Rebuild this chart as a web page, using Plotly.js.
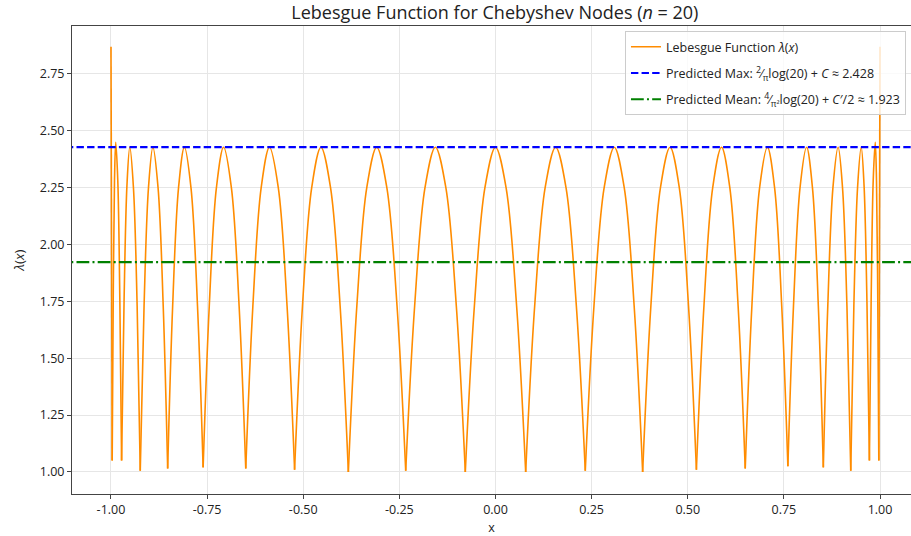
<!DOCTYPE html>
<html>
<head>
<meta charset="utf-8">
<script src="https://cdn.plot.ly/plotly-3.0.1.min.js"></script>
<style>html,body{margin:0;padding:0;background:#fff;}#chart{width:911px;height:536px;}</style>
</head>
<body>
<div id="chart"></div>
<script>
// Lebesgue function samples (x, lambda(x))
const lamX = [
  -1.0000, -0.9969, -0.9942, -0.9909, -0.9877, -0.9823, -0.9770, -0.9724,
  -0.9660, -0.9585, -0.9511, -0.9416, -0.9320, -0.9239,
  -0.9140, -0.9025, -0.8910, -0.8776, -0.8642, -0.8526,
  -0.8396, -0.8243, -0.8090, -0.7920, -0.7750, -0.7604,
  -0.7444, -0.7258, -0.7071, -0.6869, -0.6668, -0.6495,
  -0.6310, -0.6094, -0.5878, -0.5649, -0.5421, -0.5225,
  -0.5020, -0.4780, -0.4540, -0.4290, -0.4041, -0.3827,
  -0.3606, -0.3348, -0.3090, -0.2826, -0.2561, -0.2335,
  -0.2103, -0.1834, -0.1564, -0.1291, -0.1019, -0.0785,
  -0.0549, -0.0275, 0.0000, 0.0275, 0.0549, 0.0785,
  0.1019, 0.1291, 0.1564, 0.1834, 0.2103, 0.2335,
  0.2561, 0.2826, 0.3090, 0.3348, 0.3606, 0.3827,
  0.4041, 0.4290, 0.4540, 0.4780, 0.5020, 0.5225,
  0.5421, 0.5649, 0.5878, 0.6094, 0.6310, 0.6495,
  0.6668, 0.6869, 0.7071, 0.7258, 0.7444, 0.7604,
  0.7750, 0.7920, 0.8090, 0.8243, 0.8396, 0.8526,
  0.8642, 0.8776, 0.8910, 0.9025, 0.9140, 0.9239,
  0.9320, 0.9416, 0.9511, 0.9585, 0.9660, 0.9724,
  0.9770, 0.9823, 0.9877, 0.9909, 0.9942, 0.9969, 1.0000
];
const lamY = [
  2.870, 1.050, 1.760, 2.280, 2.450, 2.280, 1.760, 1.050,
  1.750, 2.260, 2.428, 2.250, 1.730, 1.005,
  1.730, 2.250, 2.428, 2.250, 1.730, 1.015,
  1.730, 2.250, 2.428, 2.250, 1.730, 1.020,
  1.730, 2.250, 2.428, 2.250, 1.730, 1.015,
  1.730, 2.250, 2.428, 2.250, 1.730, 1.010,
  1.730, 2.250, 2.428, 2.250, 1.730, 1.000,
  1.730, 2.250, 2.428, 2.250, 1.730, 1.005,
  1.730, 2.250, 2.428, 2.250, 1.730, 1.000,
  1.730, 2.250, 2.428, 2.250, 1.730, 1.000,
  1.730, 2.250, 2.428, 2.250, 1.730, 1.005,
  1.730, 2.250, 2.428, 2.250, 1.730, 1.000,
  1.730, 2.250, 2.428, 2.250, 1.730, 1.010,
  1.730, 2.250, 2.428, 2.250, 1.730, 1.015,
  1.730, 2.250, 2.428, 2.250, 1.730, 1.025,
  1.730, 2.250, 2.428, 2.250, 1.730, 1.020,
  1.730, 2.250, 2.428, 2.250, 1.730, 1.005,
  1.730, 2.250, 2.428, 2.260, 1.750, 1.050,
  1.760, 2.280, 2.450, 2.280, 1.760, 1.050, 2.870
];
const predictedMax = 2.428;
const predictedMean = 1.923;
const hlineX = [-1.2, 1.2];
const xTicks = [-1.00, -0.75, -0.50, -0.25, 0.00, 0.25, 0.50, 0.75, 1.00];
const yTicks = [1.00, 1.25, 1.50, 1.75, 2.00, 2.25, 2.50, 2.75];

const ORANGE = '#FF8C00';
const FONT = 'Open Sans, sans-serif';

// split the curve into arches at the node dips so each cusp stays sharp
const traces = [];
let segX = [lamX[0]], segY = [lamY[0]];
for (let i = 1; i < lamX.length; i++) {
  segX.push(lamX[i]); segY.push(lamY[i]);
  if (lamY[i] < 1.2 || i === lamX.length - 1) {
    traces.push({
      x: segX, y: segY, type: 'scatter', mode: 'lines',
      line: {color: ORANGE, width: 1.6, shape: 'spline', smoothing: 1},
      name: 'Lebesgue Function <i>λ</i>(<i>x</i>)', legendgroup: 'a',
      showlegend: traces.length === 0, hoverinfo: 'skip'
    });
    segX = [lamX[i]]; segY = [lamY[i]];
  }
}
traces.push({
  x: hlineX, y: hlineX.map(() => predictedMax), type: 'scatter', mode: 'lines',
  line: {color: '#0000FF', width: 2.2, dash: '7.4px,3.2px'}, legendgroup: 'b',
  name: 'Predicted Max: <sup>2</sup>⁄<sub>π</sub>log(20) + <i>C</i> ≈ 2.428'
});
traces.push({
  x: hlineX, y: hlineX.map(() => predictedMean), type: 'scatter', mode: 'lines',
  line: {color: '#008000', width: 2.2, dash: '12.8px,3.2px,2px,3.2px'}, legendgroup: 'c',
  name: 'Predicted Mean: <sup>4</sup>⁄<sub>π²</sub>log(20) + <i>C</i>′/2 ≈ 1.923'
});

const layout = {
  width: 911, height: 536,
  margin: {l: 72, r: 0, t: 26, b: 42},
  paper_bgcolor: '#fff', plot_bgcolor: '#fff',
  font: {family: FONT, color: '#222', size: 12},
  title: {text: 'Lebesgue Function for Chebyshev Nodes (<i>n</i> = 20)',
          font: {size: 18, color: '#222'}, x: 0.504, xref: 'paper', y: 0.977, yref: 'container', yanchor: 'middle'},
  xaxis: {
    range: [-1.1014, 1.0806], tickvals: xTicks, ticktext: xTicks.map(v => v.toFixed(2)),
    showgrid: true, gridcolor: '#e6e6e6', gridwidth: 1, zeroline: false,
    showline: true, linecolor: '#444', linewidth: 1, mirror: true,
    ticks: 'outside', ticklen: 4, tickcolor: '#444',
    tickfont: {size: 12.5, color: '#222'},
    title: {text: 'x', font: {size: 12.5, color: '#222'}, standoff: 8}
  },
  yaxis: {
    range: [0.903, 2.961], tickvals: yTicks, ticktext: yTicks.map(v => v.toFixed(2)),
    showgrid: true, gridcolor: '#e6e6e6', gridwidth: 1, zeroline: false,
    showline: true, linecolor: '#444', linewidth: 1, mirror: true,
    ticks: 'outside', ticklen: 4, tickcolor: '#444',
    tickfont: {size: 12.5, color: '#222'},
    title: {text: '<i>λ</i>(<i>x</i>)', font: {size: 13.5, color: '#222'}, standoff: 12}
  },
  legend: {
    x: 0.994, xanchor: 'right', y: 0.989, yanchor: 'top',
    bgcolor: 'rgba(255,255,255,0.8)', bordercolor: '#cccccc', borderwidth: 1,
    font: {size: 12.5, color: '#222'}, traceorder: 'grouped', tracegroupgap: 7,
    itemwidth: 30
  },
  showlegend: true
};

Plotly.newPlot('chart', traces, layout, {displayModeBar: false, staticPlot: true});
</script>
</body>
</html>
